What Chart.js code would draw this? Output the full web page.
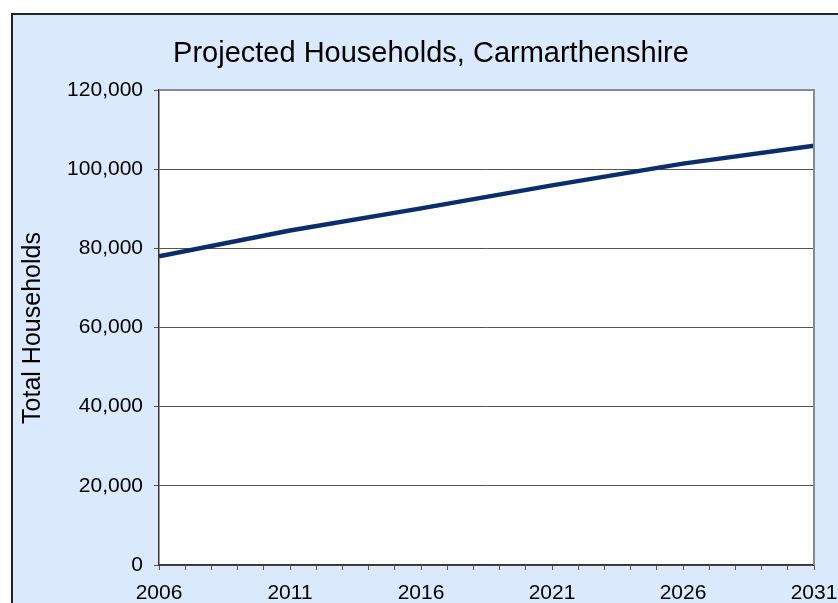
<!DOCTYPE html>
<html lang="en">
<head>
  <meta charset="UTF-8" />
  <title>Projected Households, Carmarthenshire</title>
  <script src="https://cdn.jsdelivr.net/npm/chart.js"></script>
  <style>
    body {
      margin: 0;
      padding: 0;
      background: #fff;
    }
    canvas {
      display: block;
    }
  </style>
</head>
<body>
  <canvas id="graficoHogares" width="838" height="603"></canvas>

  <script>
    const anios = [2006, 2011, 2016, 2021, 2026, 2031];
    const hogares = [78000, 84500, 90100, 95900, 101400, 105900];
    const ticksY = [0, 20000, 40000, 60000, 80000, 100000, 120000];

    const titulo = 'Projected Households, Carmarthenshire';
    const tituloEje = 'Total Households';

    const fondoAzul = '#dbe9fc';
    const colorLinea = '#0a2d6b';

    // fondo, marco y textos fijos
    const marco = {
      id: 'marco',
      beforeDraw(chart) {
        const ctx = chart.ctx;
        const area = chart.chartArea;
        ctx.save();
        ctx.fillStyle = '#fff';
        ctx.fillRect(0, 0, chart.width, chart.height);
        ctx.fillStyle = fondoAzul;
        ctx.fillRect(12, 15, chart.width, chart.height);
        ctx.strokeStyle = '#222';
        ctx.lineWidth = 2;
        ctx.beginPath();
        ctx.moveTo(12, chart.height + 2);
        ctx.lineTo(12, 14);
        ctx.lineTo(chart.width + 2, 14);
        ctx.stroke();
        ctx.fillStyle = '#fff';
        ctx.fillRect(area.left, area.top, area.right - area.left, area.bottom - area.top);

        ctx.fillStyle = '#000';
        ctx.font = '29px Arial, "Liberation Sans", sans-serif';
        ctx.textAlign = 'center';
        ctx.textBaseline = 'alphabetic';
        ctx.fillText(titulo, 431, 62);

        ctx.translate(33, 328);
        ctx.rotate(-Math.PI / 2);
        ctx.font = '25px Arial, "Liberation Sans", sans-serif';
        ctx.textBaseline = 'middle';
        ctx.fillText(tituloEje, 0, 0);
        ctx.restore();
      },
      afterDraw(chart) {
        const ctx = chart.ctx;
        const area = chart.chartArea;
        ctx.save();
        ctx.strokeStyle = '#8a8a8a';
        ctx.lineWidth = 2;
        ctx.beginPath();
        ctx.moveTo(area.left, area.top);
        ctx.lineTo(area.right, area.top);
        ctx.lineTo(area.right, area.bottom);
        ctx.stroke();
        ctx.restore();
      }
    };

    new Chart(document.getElementById('graficoHogares'), {
      type: 'line',
      data: {
        datasets: [{
          label: tituloEje,
          data: anios.map((a, i) => ({ x: a, y: hogares[i] })),
          borderColor: colorLinea,
          borderWidth: 4.5,
          pointRadius: 0,
          tension: 0,
          fill: false
        }]
      },
      options: {
        responsive: false,
        animation: false,
        layout: {
          padding: { top: 90, right: 24, bottom: 0, left: 0 }
        },
        plugins: {
          legend: { display: false },
          tooltip: { enabled: false }
        },
        scales: {
          x: {
            type: 'linear',
            min: anios[0],
            max: anios[anios.length - 1],
            afterFit: scale => {
              scale.height = 38;
              scale.paddingLeft = 0;
              scale.paddingRight = 0;
            },
            afterBuildTicks: scale => {
              const t = [];
              for (let a = anios[0]; a <= anios[anios.length - 1]; a++) t.push({ value: a });
              scale.ticks = t;
            },
            ticks: {
              autoSkip: false,
              maxRotation: 0,
              padding: 11,
              color: '#000',
              font: { family: 'Arial, "Liberation Sans", sans-serif', size: 21 },
              callback: v => anios.includes(v) ? String(v) : ''
            },
            grid: {
              drawOnChartArea: false,
              drawTicks: true,
              tickLength: 5,
              color: '#555',
              lineWidth: 1
            },
            border: { color: '#333', width: 1.5 }
          },
          y: {
            min: ticksY[0],
            max: ticksY[ticksY.length - 1],
            afterFit: scale => {
              scale.width = 159;
              scale.paddingTop = 0;
              scale.paddingBottom = 0;
            },
            afterBuildTicks: scale => {
              scale.ticks = ticksY.map(v => ({ value: v }));
            },
            ticks: {
              padding: 11,
              color: '#000',
              font: { family: 'Arial, "Liberation Sans", sans-serif', size: 21 },
              callback: v => v.toLocaleString('en-US')
            },
            grid: {
              color: '#555',
              lineWidth: 1,
              tickLength: 5
            },
            border: { color: '#333', width: 1.5 }
          }
        }
      },
      plugins: [marco]
    });
  </script>
</body>
</html>
